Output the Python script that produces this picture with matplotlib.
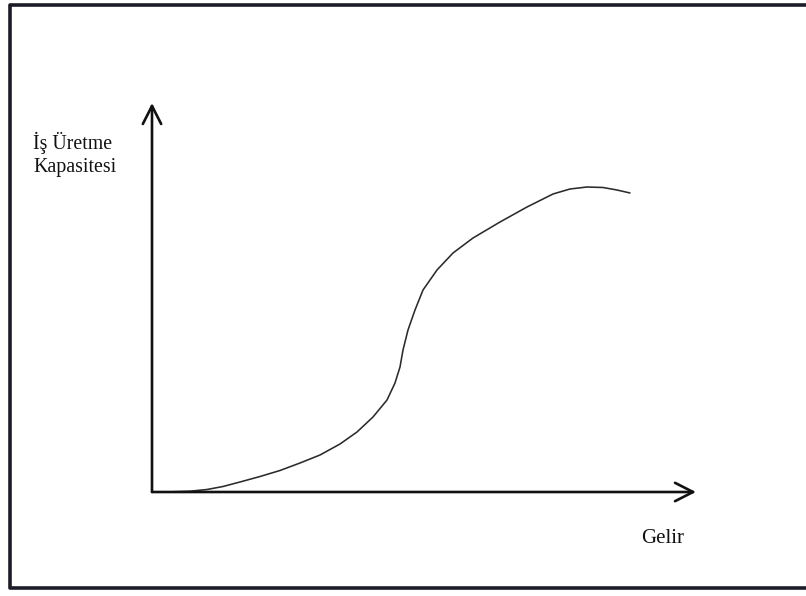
import matplotlib.pyplot as plt
from matplotlib.lines import Line2D

plt.rcParams["font.family"] = ["Liberation Serif", "DejaVu Serif"]

# curve (offsets from the axis origin)
gelir = [0, 20, 38, 55, 71, 88, 108, 128, 148, 168, 188, 205, 221, 235,
         243, 248, 251, 256, 263, 271, 285, 301, 321, 348, 375, 401, 418,
         435, 451, 465, 478]
kapasite = [0, 0.2, 0.8, 2.5, 5.5, 10, 15.5, 21.5, 29, 37, 48, 60, 75, 92,
            109, 125, 142, 162, 182, 202, 222, 239, 254, 270, 285, 298, 303,
            305, 304.5, 302, 299]

x_label = "Gelir"
y_label = "İş Üretme\nKapasitesi"

fig = plt.figure(figsize=(8.06, 5.96), dpi=100)
ax = fig.add_axes([0, 0, 1, 1])
ax.set_xlim(-152, 654)
ax.set_ylim(-104, 492)
ax.axis("off")

ax.plot(gelir, kapasite, color="#2b2b2b", lw=1.15, solid_joinstyle="round",
        solid_capstyle="round")

arrow = dict(arrowstyle="->,head_length=0.65,head_width=0.33", color="#111111",
             lw=1.9, mutation_scale=20, shrinkA=0, shrinkB=0)
ax.annotate("", xy=(544, 0), xytext=(0, 0), arrowprops=arrow)
ax.annotate("", xy=(0, 389), xytext=(0, 0), arrowprops=arrow)

ax.text(-119, 320, y_label, fontsize=14.3, ha="left", va="baseline",
        linespacing=1.25, color="#111111")
ax.text(489, -51, x_label, fontsize=15, ha="left", va="baseline",
        color="#111111")

# scanned page frame
frame = Line2D([1.02, 0.0124, 0.0124, 1.02], [0.9924, 0.9924, 0.0134, 0.0134],
               transform=fig.transFigure, color="#1c1c28", lw=2.6)
fig.add_artist(frame)

fig.savefig("out.png", dpi=100)
